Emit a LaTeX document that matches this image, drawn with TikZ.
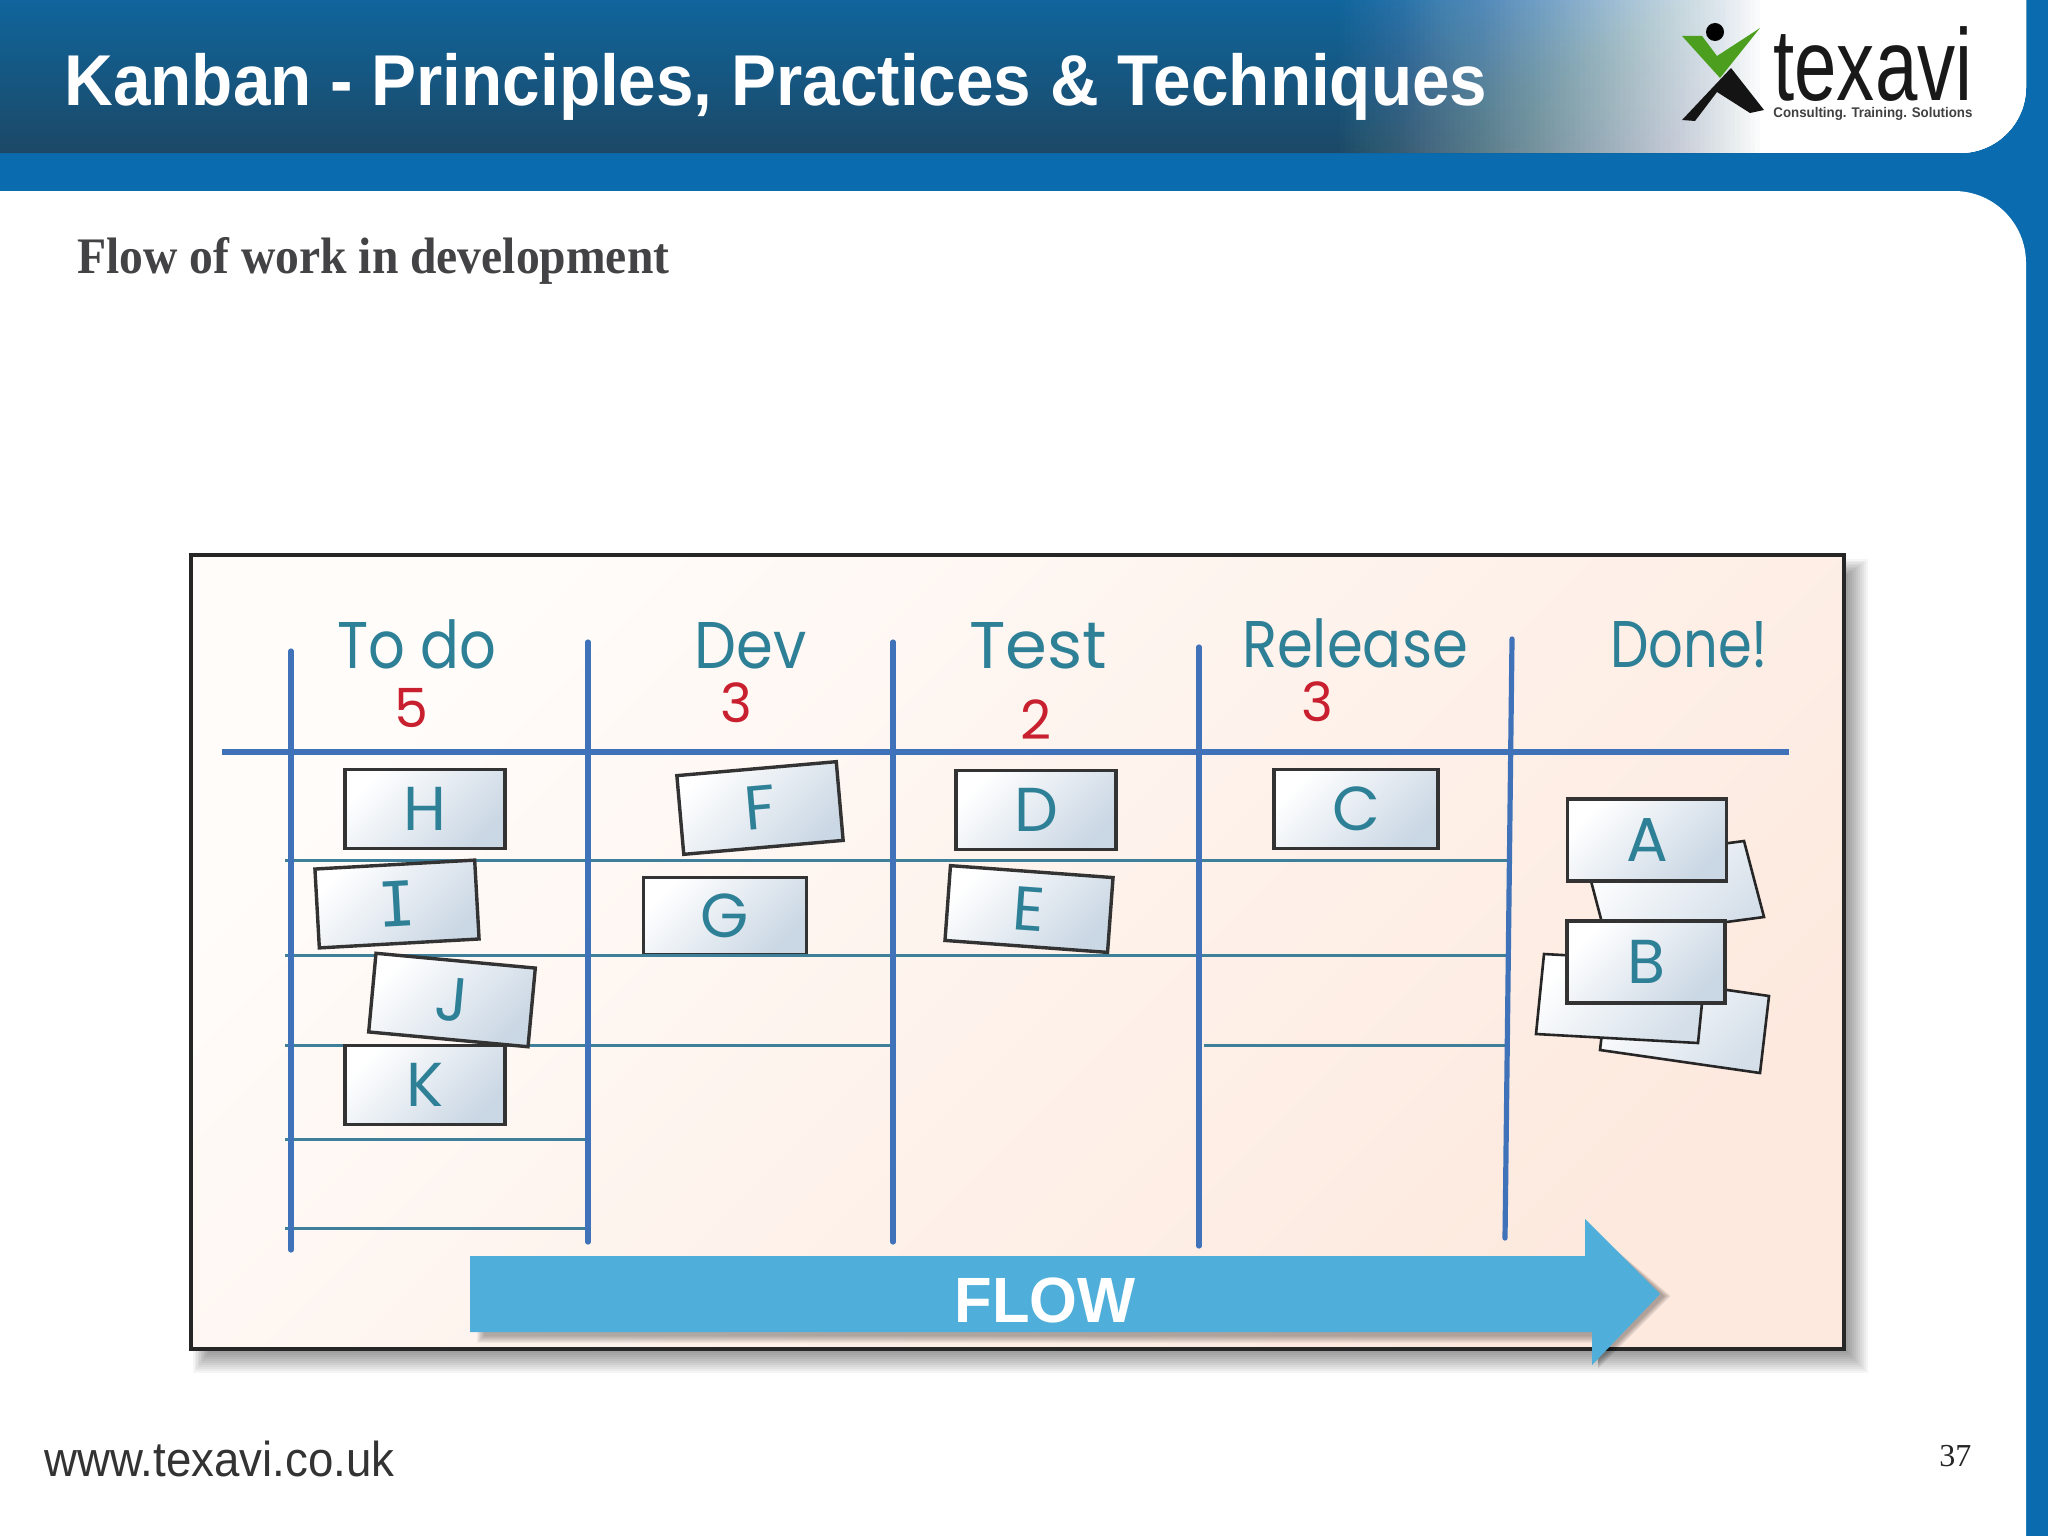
\documentclass[tikz,border=0pt]{standalone}
\usepackage{fontspec}
\usepackage{graphicx}
\setmainfont{Liberation Sans}
\newfontfamily\seriff{Liberation Serif}
\newfontfamily\handf{Poppins}
\newfontfamily\monof{DejaVu Sans Mono}
\newlength\pxu \setlength\pxu{0.5pt}
\newcommand{\fitw}[2]{\resizebox{#1\pxu}{\height}{#2}}
\newcommand{\fsz}[1]{\fontsize{#1}{#1}\selectfont}
\definecolor{bandblue}{HTML}{0A6CAE}
\definecolor{headtop}{HTML}{0F659C}
\definecolor{headbot}{HTML}{1C4866}
\definecolor{gridblue}{HTML}{3F72B8}
\definecolor{rowteal}{HTML}{3E7F99}
\definecolor{handteal}{HTML}{2E8097}
\definecolor{limitred}{HTML}{C8202F}
\definecolor{flowblue}{HTML}{4FAFDA}
\definecolor{cardlo}{HTML}{CAD7E4}
\definecolor{boardhi}{HTML}{FFFCFA}
\definecolor{boardmid}{HTML}{FEF3EC}
\definecolor{boardlo}{HTML}{FDE9DE}
\definecolor{logogreen}{HTML}{4C9F1E}
\definecolor{headingc}{HTML}{434345}
\tikzset{
  x=0.5pt,y=-0.5pt,
  column/.style={line width=2.6pt,gridblue,line cap=round},
  mainrow/.style={line width=3.4pt,gridblue},
  row/.style={line width=1.5pt,rowteal},
  card/.style={draw=black!80,line width=1.7pt,inner sep=0pt,minimum width=80pt,minimum height=39.5pt,
    top color=white,bottom color=cardlo,shading angle=45,text=handteal,font=\handf\fsz{31}},
  backcard/.style={draw=black!85,line width=1.3pt,top color=white,bottom color=cardlo!80,shading angle=45},
  headtext/.style={anchor=base,inner sep=0pt,text=handteal,font=\handf\fsz{33}},
  limit/.style={anchor=base,inner sep=0pt,text=limitred,font=\handf\fsz{27}},
  plain/.style={anchor=base west,inner sep=0pt},
}
\begin{document}
\begin{tikzpicture}
\useasboundingbox (0,0) rectangle (2048,1536);
% frame
\fill[bandblue] (0,0) rectangle (2048,1536);
\begin{scope}
  \clip (0,0) -- (2026,0) [rounded corners=33pt] -- (2026,153) [sharp corners] -- (0,153) -- cycle;
  \shade[top color=headtop,bottom color=headbot] (0,0) rectangle (2048,153);
  \foreach \i in {0,...,84}{
    \pgfmathsetmacro{\xx}{1340+\i*5}
    \pgfmathsetmacro{\aa}{1/(85-\i)}
    \fill[white,opacity=\aa] (\xx,0) rectangle (2048,153);
  }
\end{scope}
\fill[white] (0,191) [rounded corners=36pt] -- (2026,191) [sharp corners] -- (2026,1536) -- (0,1536) -- cycle;
% title and texts
\node[plain,text=white] (title) at (64,105) {\fitw{1423}{\bfseries\fsz{36}Kanban - Principles, Practices \& Techniques}};
\node[plain,text=headingc] (heading) at (77,273) {\fitw{592}{\seriff\bfseries\fsz{25.6}Flow of work in development}};
\node[plain,text=black!80] (site) at (44,1476) {\fitw{350}{\fsz{24.5}www.texavi.co.uk}};
\node[plain,text=black!85] (pageno) at (1939,1466) {\seriff\fsz{16}37};
% logo
\fill[black] (1715,32) circle[radius=9];
\fill[logogreen] (1682,36) -- (1702,36) -- (1717,56) -- (1760,28) -- (1720,78) -- cycle;
\fill[black!92] (1731,68) -- (1764,110) -- (1750,113) -- (1717,92) -- (1695,121) -- (1682,120) -- cycle;
\node[plain,text=black!90] (logo) at (1773,100) {\fitw{199}{\fsz{51}texavi}};
\node[plain,text=black!75] (tagline) at (1773,118) {\fitw{199}{\bfseries\fsz{7}Consulting. Training. Solutions}};
% board shadow
\foreach \k in {0,...,14}{
  \fill[black,opacity=0.04] (214-\k*1.5,580-\k*1.5) rectangle (1840+\k*2,1345+\k*2);
}
\fill[white] (191,555) rectangle (1844,1349);
\shade[shading=axis,top color=boardhi,middle color=boardmid,bottom color=boardlo,shading angle=45] (191,555) rectangle (1844,1349);
\draw[black!85,line width=1.9pt] (191,555) rectangle (1844,1349);
% G sits on its row line
\node[card,minimum width=81.5pt,minimum height=38.5pt] (G) at (725,916) {G};
% rows
\draw[row] (285,860) -- (1511,860);
\draw[row] (285,955) -- (1506,955);
\draw[row] (285,1045) -- (893,1045);
\draw[row] (1204,1045) -- (1506,1045);
\draw[row] (285,1139) -- (588,1139);
\draw[row] (285,1228) -- (588,1228);
% columns
\draw[column] (291,651) -- (291,1250);
\draw[column] (588,642) -- (588,1242);
\draw[column] (893,642) -- (893,1242);
\draw[column] (1199,647) -- (1199,1246);
\draw[column] (1512,639) -- (1505,1238);
\draw[mainrow] (222,752) -- (1789,752);
% column titles
\node[headtext] (todo) at (416.5,668) {\fitw{159}{To do}};
\node[headtext] (dev) at (750.5,668) {\fitw{112}{Dev}};
\node[headtext] (test) at (1038,668) {\fitw{138}{Test}};
\node[headtext] (release) at (1355,667) {\fitw{226}{Release}};
\node[headtext] (done) at (1689,667) {\fitw{158}{Done!}};
% limits
\node[limit] (l5) at (411,727) {5};
\node[limit] (l3a) at (736,722) {3};
\node[limit] (l2) at (1036,739) {2};
\node[limit] (l3b) at (1317,721) {3};
% cards
\node[card] (H) at (425,809) {H};
\node[card,rotate=3.2] (I) at (397,904) {\monof I};
\node[card,rotate=-5.3] (J) at (452,1000) {J};
\node[card] (K) at (425,1085) {K};
\node[card,rotate=5] (F) at (760,808) {F};
\node[card] (D) at (1036,810) {D};
\node[card,rotate=-4.2,minimum height=37.5pt,minimum width=81.5pt] (E) at (1029,909) {E};
\node[card,minimum width=82pt] (C) at (1356,809) {C};
% done pile
\draw[backcard] (1586,862) -- (1744,841) -- (1764,917) -- (1606,938) -- cycle;
\node[card,minimum width=79.5pt,minimum height=41pt] (A) at (1647,840) {A};
\draw[backcard] (1609,973) -- (1769,996) -- (1760,1073) -- (1600,1050) -- cycle;
\draw[backcard] (1544,954) -- (1706,963) -- (1698,1043) -- (1536,1034) -- cycle;
\node[card,minimum width=79pt,minimum height=41pt] (B) at (1646,962) {B};
% flow arrow
\foreach \k in {0,...,7}{
  \fill[black,opacity=0.045] (484-\k,1262) -- (1590,1262) -- (1590,1228) -- (1664+\k,1296) -- (1598,1362+\k) -- (1598,1336+\k) -- (484-\k,1336+\k) -- cycle;
}
\fill[flowblue] (470,1256) -- (1585,1256) -- (1585,1219) -- (1660,1294) -- (1592,1365) -- (1592,1332) -- (470,1332) -- cycle;
\node[anchor=base,inner sep=0pt,text=white] (flow) at (1045,1322) {\fitw{181}{\bfseries\fsz{32}FLOW}};
\end{tikzpicture}
\end{document}
